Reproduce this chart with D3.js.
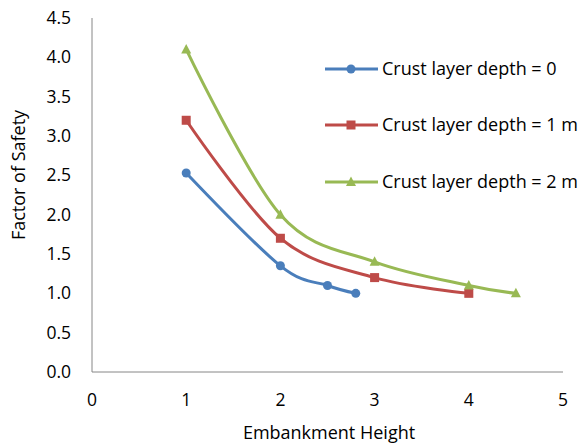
<!DOCTYPE html>
<html><head><meta charset="utf-8">
<script src="https://cdn.jsdelivr.net/npm/d3@7"></script>
<style>body{margin:0;background:#fff}text{font-family:"Open Sans",Lato,sans-serif;fill:#000}</style>
</head><body><svg id="c" width="587" height="444"></svg>
<script>
const xTicks = [0,1,2,3,4,5];
const yTicks = [0,0.5,1,1.5,2,2.5,3,3.5,4,4.5];
const seriesNames = ["Crust layer depth = 0","Crust layer depth = 1 m","Crust layer depth = 2 m"];
const xDepth0 = [1,2,2.5,2.8];
const yDepth0 = [2.53,1.35,1.1,1.0];
const xDepth1 = [1,2,3,4];
const yDepth1 = [3.2,1.7,1.2,1.0];
const xDepth2 = [1,2,3,4,4.5];
const yDepth2 = [4.1,2.0,1.4,1.1,1.0];
const colors = ["#4A7EBB","#BE4B48","#98B954"];
const markers = ["circle","square","triangle"];

const svg = d3.select("#c");
const x = d3.scaleLinear().domain([0,5]).range([92,563]);
const y = d3.scaleLinear().domain([0,4.5]).range([372,18]);
const fs = "18px";
const fsTick = "17.5px";

svg.append("line").attr("x1",x(0)).attr("x2",x(0)).attr("y1",y(4.5)).attr("y2",y(0)).attr("stroke","#868686").attr("stroke-width",1);
svg.append("line").attr("x1",x(0)).attr("x2",x(5)).attr("y1",y(0)).attr("y2",y(0)).attr("stroke","#868686").attr("stroke-width",1);

svg.selectAll(".yt").data(yTicks).enter().append("text")
  .attr("x",71).attr("y",d=>y(d)).attr("dy","0.35em").attr("text-anchor","end")
  .style("font-size",fsTick).text(d=>d.toFixed(1));
svg.selectAll(".xt").data(xTicks).enter().append("text")
  .attr("x",d=>x(d)).attr("y",400).attr("dy","0.35em").attr("text-anchor","middle")
  .style("font-size",fsTick).text(d=>d);

svg.append("text").attr("x",329).attr("y",433).attr("dy","0.35em").attr("text-anchor","middle")
  .style("font-size",fs).text("Embankment Height");
svg.append("text").attr("transform","translate(19,175) rotate(-90)").attr("dy","0.35em").attr("text-anchor","middle")
  .style("font-size",fs).text("Factor of Safety");

const data = [
  xDepth0.map((v,i)=>[v,yDepth0[i]]),
  xDepth1.map((v,i)=>[v,yDepth1[i]]),
  xDepth2.map((v,i)=>[v,yDepth2[i]])
];
const line = d3.line().x(d=>x(d[0])).y(d=>y(d[1])).curve(d3.curveCardinal.tension(0));

function drawMarker(g, type, cx, cy, col){
  if(type==="circle") g.append("circle").attr("cx",cx).attr("cy",cy).attr("r",4.5).attr("fill",col);
  else if(type==="square") g.append("rect").attr("x",cx-4.5).attr("y",cy-4.5).attr("width",9).attr("height",9).attr("fill",col);
  else g.append("path").attr("d",`M${cx},${cy-5.5}L${cx+5},${cy+4}L${cx-5},${cy+4}Z`).attr("fill",col);
}

data.forEach((s,k)=>{
  const g = svg.append("g");
  g.append("path").datum(s).attr("d",line).attr("fill","none").attr("stroke",colors[k]).attr("stroke-width",3).attr("stroke-linejoin","round");
  s.forEach(p=>drawMarker(g,markers[k],x(p[0]),y(p[1]),colors[k]));
});

const legY = [69,125,182];
seriesNames.forEach((n,k)=>{
  const g = svg.append("g");
  g.append("line").attr("x1",325).attr("x2",378).attr("y1",legY[k]).attr("y2",legY[k]).attr("stroke",colors[k]).attr("stroke-width",3);
  drawMarker(g,markers[k],351,legY[k],colors[k]);
  g.append("text").attr("x",382).attr("y",legY[k]).attr("dy","0.35em").style("font-size",fs).text(n);
});
</script></body></html>
